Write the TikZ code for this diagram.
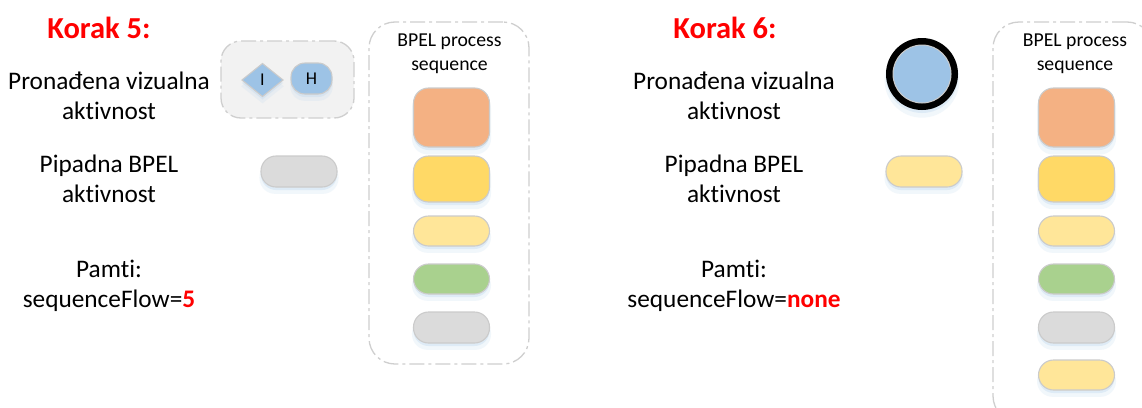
\documentclass[tikz,border=0pt]{standalone}
\usepackage{fontspec}
\setmainfont[Ligatures=CommonOff]{Carlito}
\usetikzlibrary{shapes.geometric,shadows}
\definecolor{redtitle}{HTML}{FF0000}
\definecolor{shadowblue}{HTML}{BDD7EE}
\definecolor{edgegray}{HTML}{CBCBCB}
\definecolor{dashgray}{HTML}{CFCFCF}
\definecolor{panelgray}{HTML}{F2F2F2}
\definecolor{actblue}{HTML}{9DC3E6}
\definecolor{actorange}{HTML}{F4B183}
\definecolor{actamber}{HTML}{FFD966}
\definecolor{actyellow}{HTML}{FFE699}
\definecolor{actgreen}{HTML}{A9D18E}
\definecolor{actgray}{HTML}{DBDBDB}
\tikzset{
	softshadow/.style={
		general shadow={fill=shadowblue,opacity=.2,shadow yshift=-6pt,shadow scale=1.04},
		general shadow={fill=shadowblue,opacity=.35,shadow yshift=-3pt}},
	act/.style={draw=edgegray,line width=1.1pt,inner sep=0pt,outer sep=0pt,softshadow,minimum width=76pt},
	seqbox/.style={draw=dashgray,line width=1.3pt,rounded corners=26pt,dash pattern=on 15pt off 4pt on 3pt off 4pt,minimum width=160pt,inner sep=0pt},
	steptitle/.style={text=redtitle,font=\fontsize{30.5}{36}\selectfont\bfseries},
	steptext/.style={align=center,font=\fontsize{25.3}{30}\selectfont},
	seqlabel/.style={align=center,font=\fontsize{19.7}{24}\selectfont},
	mark text/.style={font=\fontsize{18}{18}\selectfont}
}
\begin{document}
\begin{tikzpicture}[x=1pt,y=-1pt]
	\clip (0,0) rectangle (1142,407);
	\fill[white] (0,0) rectangle (1142,407);

	% Korak 5
	\node[steptitle] (title5) at (99,28) {Korak 5:};
	\node[steptext] (found5) at (109,96) {Pronađena vizualna\\aktivnost};
	\node[steptext] (bpel5) at (109,179) {Pipadna BPEL\\aktivnost};
	\node[steptext] (flow5) at (109,286) {Pamti:\\sequenceFlow=\textcolor{redtitle}{\textbf{5}}};

	% Found group
	\node[seqbox,fill=panelgray,rounded corners=20pt,minimum width=133pt,minimum height=77pt] (group5) at (287.5,79.5) {};
	\node[act,diamond,fill=actblue,minimum width=41pt,minimum height=33pt,mark text] (gate5) at (262.5,80) {I};
	\node[act,fill=actblue,rounded corners=14pt,minimum width=41pt,minimum height=31pt,mark text] (task5) at (311.5,78.5) {H};
	\node[act,fill=actgray,rounded corners=15pt,minimum height=31pt] (match5) at (299,171.5) {};

	% Sequence 5
	\node[seqbox,minimum height=342pt] (seq5) at (449,193) {};
	\node[seqlabel] (label5) at (449.5,53.5) {BPEL process\\sequence};
	\node[act,fill=actorange,rounded corners=15pt,minimum height=59pt] (a51) at (451.5,117.5) {};
	\node[act,fill=actamber,rounded corners=15pt,minimum height=46pt] (a52) at (451.5,179) {};
	\node[act,fill=actyellow,rounded corners=15pt,minimum height=30pt] (a53) at (451.5,231) {};
	\node[act,fill=actgreen,rounded corners=15pt,minimum height=30pt] (a54) at (451.5,279) {};
	\node[act,fill=actgray,rounded corners=15pt,minimum height=31pt] (a55) at (451.5,327.5) {};

	% Korak 6
	\node[steptitle] (title6) at (725,28) {Korak 6:};
	\node[steptext] (found6) at (734,96) {Pronađena vizualna\\aktivnost};
	\node[steptext] (bpel6) at (734,179) {Pipadna BPEL\\aktivnost};
	\node[steptext] (flow6) at (734,286) {Pamti:\\sequenceFlow=\textcolor{redtitle}{\textbf{none}}};

	% End event
	\node[circle,fill=black,inner sep=0pt,minimum size=72pt,softshadow] (ring6) at (922,74) {};
	\node[circle,fill=actblue,draw=edgegray,line width=1pt,inner sep=0pt,minimum size=58pt] (event6) at (922,74) {};
	\node[act,fill=actyellow,rounded corners=15pt,minimum height=31pt] (match6) at (924,171.5) {};

	% Sequence 6
	\node[seqbox,minimum height=400pt] (seq6) at (1073,222) {};
	\node[seqlabel] (label6) at (1075,53.5) {BPEL process\\sequence};
	\node[act,fill=actorange,rounded corners=15pt,minimum height=59pt] (a61) at (1076.5,117.5) {};
	\node[act,fill=actamber,rounded corners=15pt,minimum height=46pt] (a62) at (1076.5,179) {};
	\node[act,fill=actyellow,rounded corners=15pt,minimum height=30pt] (a63) at (1076.5,231) {};
	\node[act,fill=actgreen,rounded corners=15pt,minimum height=30pt] (a64) at (1076.5,279) {};
	\node[act,fill=actgray,rounded corners=15pt,minimum height=31pt] (a65) at (1076.5,327.5) {};
	\node[act,fill=actyellow,rounded corners=15pt,minimum height=30pt] (a66) at (1076.5,375) {};
\end{tikzpicture}
\end{document}
